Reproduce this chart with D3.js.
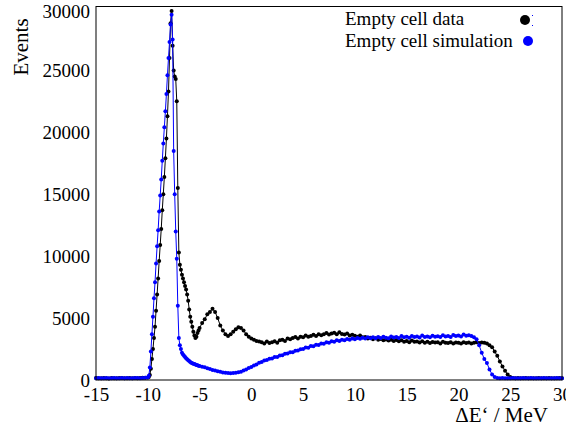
<!DOCTYPE html>
<html lang="en">
<head>
    <meta charset="UTF-8">
    <title>Empty cell: data vs simulation</title>
    <script src="https://d3js.org/d3.v7.min.js"></script>
    <style>
        body { margin: 0; background: #fff; }
        text { font-family: "Liberation Serif", "Times New Roman", serif; fill: #000; }
        .frame { fill: none; stroke: #000; stroke-width: 1px; }
    </style>
</head>
<body>
<svg width="566" height="429"></svg>
<script type="text/javascript">
    // bin centres (finer binning across the peak)
    const binsLow = d3.range(-15, -10, 0.25);
    const binsPeak = d3.range(-10, -5, 0.1);
    const binsHigh = d3.range(-5, 30.001, 0.25);

    // Empty cell data (black)
    const dataLow = [160,140,150,170,150,130,160,150,140,170,160,150,140,160,150,170,150,160,180,190];
    const dataPeak = [200,250,400,900,1700,2500,3400,4300,5600,6900,
        8200,9600,10900,12200,13700,15000,16400,17900,19500,21300,
        23300,26000,28800,29800,27000,25000,24500,24300,22500,15500,
        10300,9300,8900,8500,8200,7900,7600,7300,6900,6400,
        5700,5100,4700,4300,3900,3600,3400,3500,3800,4000];
    const dataHigh = [4200,4600,4900,5300, 5500,5750,5500,5000, 4400,4000,3700,3550, 3700,3900,4100,4250,
        4200,4000,3700,3500, 3350,3250,3150,3100, 3050,2950,3100,2980, 3050,3120,3000,3200,
        3250,3150,3350,3300, 3400,3480,3350,3500, 3450,3600,3500,3550, 3650,3550,3700,3620,
        3700,3800,3680,3750, 3820,3700,3850,3720, 3680,3750,3600,3650, 3580,3500,3600,3450,
        3480,3350,3420,3300, 3380,3250,3320,3200, 3280,3180,3250,3150, 3220,3120,3200,3080,
        3150,3050,3180,3080, 3100,3020,3120,3000, 3080,2980,3060,3020, 3050,2950,3080,3000,
        2980,3050,2950,3020, 3000,2940,3050,2980, 3020,2950,3000,3050, 2980,3020,3000,2950,
        2800,2650,2300,1950, 1500,1100,750,450, 250,170,150,160, 140,150,160,150,
        150,140,150,160, 150,150,140,160, 150,140,150,160, 150];

    // Empty cell simulation (blue)
    const simLow = [150,160,140,150,170,150,140,160,150,150,170,140,160,150,150,160,170,150,160,180];
    const simPeak = [200,350,1000,2300,3700,5100,6600,7900,9400,10800,
        12100,13600,14900,16200,17700,19100,20400,21700,23100,24600,
        26000,27300,28700,29500,27500,18500,15000,12000,9800,6000,
        3400,2800,2500,2200,2050,1950,1850,1750,1680,1600,
        1530,1450,1400,1360,1320,1290,1250,1220,1190,1160];
    const simHigh = [1130,1060,1020,940, 890,810,770,700, 660,600,590,560, 540,570,580,630,
        670,770,850,960, 1040,1170,1260,1400, 1460,1580,1620,1720, 1740,1850,1860,1980,
        2000,2110,2130,2240, 2250,2370,2380,2490, 2500,2620,2610,2740, 2730,2850,2830,2950,
        2920,3050,3010,3130, 3090,3210,3150,3260, 3200,3310,3250,3360, 3300,3400,3330,3420,
        3350,3460,3380,3450, 3370,3480,3400,3500, 3420,3380,3520,3440, 3480,3400,3550,3450,
        3500,3420,3560,3470, 3520,3440,3600,3480, 3510,3450,3580,3500, 3540,3470,3620,3520,
        3560,3480,3640,3550, 3600,3520,3680,3580, 3620,3550,3450,3300, 2800,2200,1700,1370,
        850,450,250,170, 150,160,150,140, 150,160,150,150, 140,160,150,150,
        160,150,140,150, 150,160,150,140, 150,150,160,150, 150];

    const xTicks = [-15, -10, -5, 0, 5, 10, 15, 20, 25, 30];
    const yTicks = [0, 5000, 10000, 15000, 20000, 25000, 30000];
    const legendLabels = ["Empty cell data", "Empty cell simulation"];

    const bins = binsLow.concat(binsPeak, binsHigh).map(d => +d.toFixed(2));
    const data = dataLow.concat(dataPeak, dataHigh);
    const sim = simLow.concat(simPeak, simHigh);

    let svg = d3.select("svg");

    let x = d3.scaleLinear().domain([-15, 30]).range([96, 562]);
    let y = d3.scaleLinear().domain([0, 30200]).range([380, 6]);

    let line = d3.line()
        .x(d => x(d[0]))
        .y(d => y(d[1]));

    let series = [
        {name: legendLabels[0], color: "#000000", points: d3.zip(bins, data)},
        {name: legendLabels[1], color: "#0000ff", points: d3.zip(bins, sim)}
    ];

    series.forEach(s => {
        let g = svg.append("g");
        g.append("path")
            .attr("d", line(s.points))
            .attr("fill", "none")
            .attr("stroke", s.color)
            .attr("stroke-width", 1);
        g.selectAll("circle")
            .data(s.points)
            .join("circle")
            .attr("cx", d => x(d[0]))
            .attr("cy", d => y(d[1]))
            .attr("r", 2)
            .attr("fill", s.color);
    });

    // axes (no tick marks, only labels)
    let xAxis = svg.append("g")
        .attr("transform", "translate(0,380)")
        .call(d3.axisBottom(x).tickValues(xTicks).tickSize(0).tickPadding(8).tickFormat(d => String(d)));
    let yAxis = svg.append("g")
        .attr("transform", "translate(96,0)")
        .call(d3.axisLeft(y).tickValues(yTicks).tickSize(0).tickPadding(6).tickFormat(d => String(d)));
    [xAxis, yAxis].forEach(a => {
        a.select(".domain").remove();
        a.selectAll("text")
            .style("font-family", "'Liberation Serif', serif")
            .style("font-size", "19px")
            .attr("fill", "#000");
    });
    // top label sits a little below the frame edge, as in the original
    yAxis.selectAll(".tick")
        .filter(d => d === 30000)
        .select("text")
        .attr("dy", "0.5em");

    svg.append("rect")
        .attr("class", "frame")
        .attr("x", 96)
        .attr("y", 6.5)
        .attr("width", 466)
        .attr("height", 373.5);

    // axis titles
    svg.append("text")
        .attr("x", 548)
        .attr("y", 422)
        .attr("text-anchor", "end")
        .style("font-size", "21px")
        .text("\u0394E\u2018 / MeV");

    svg.append("text")
        .attr("transform", "translate(28,47) rotate(-90)")
        .attr("text-anchor", "middle")
        .style("font-size", "21px")
        .text("Events");

    // legend
    let legend = svg.append("g");
    legend.selectAll("text")
        .data(series)
        .join("text")
        .attr("x", 345)
        .attr("y", (d, i) => 25 + i * 22)
        .style("font-size", "19px")
        .text(d => d.name);
    legend.selectAll("circle")
        .data(series)
        .join("circle")
        .attr("cx", (d, i) => 525 + i * 3)
        .attr("cy", (d, i) => 20 + i * 21)
        .attr("r", 5)
        .attr("fill", d => d.color);
    legend.selectAll("rect")
        .data([15, 25])
        .join("rect")
        .attr("x", 532)
        .attr("y", d => d)
        .attr("width", 1)
        .attr("height", 1)
        .attr("fill", "#0000ff");
</script>
</body>
</html>
